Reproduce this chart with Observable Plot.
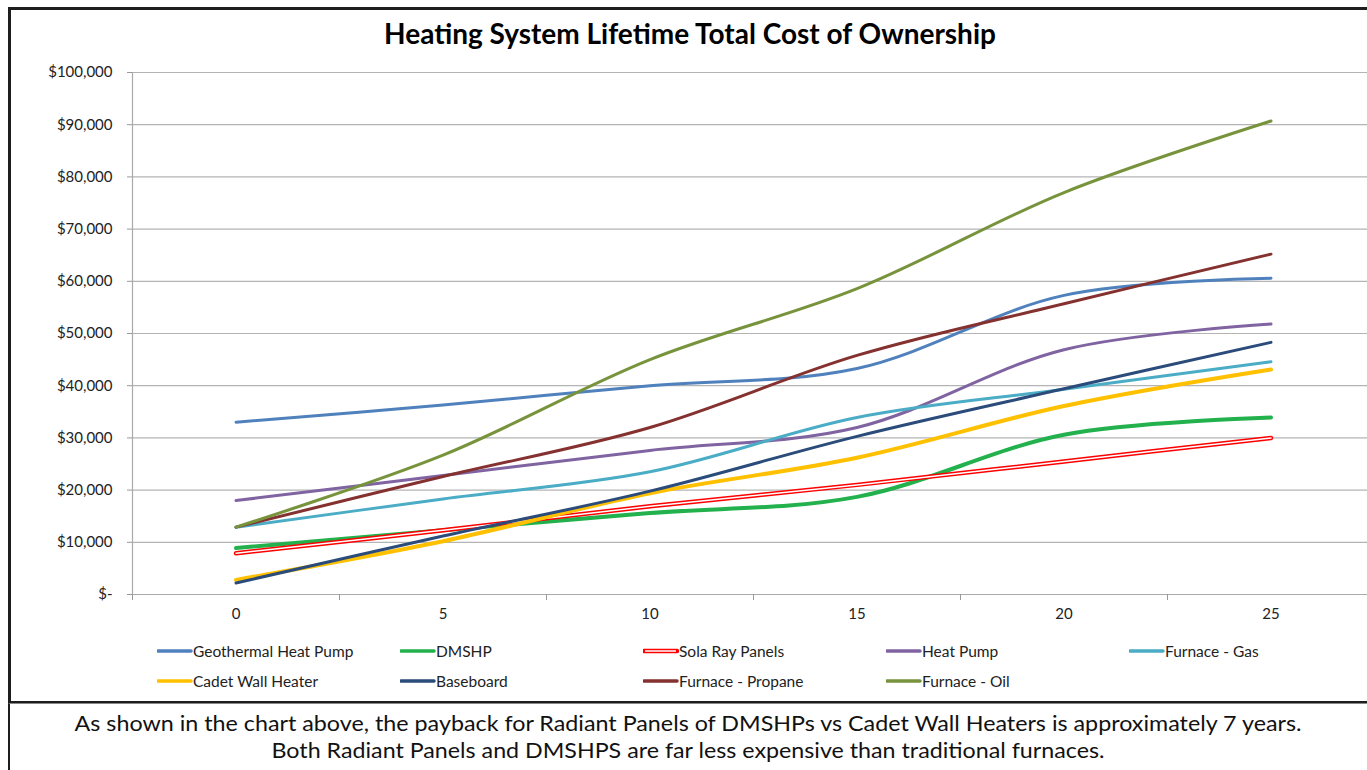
<!DOCTYPE html>
<html>
<head>
<meta charset="utf-8">
<script src="https://cdn.jsdelivr.net/npm/d3@7"></script>
<script src="https://cdn.jsdelivr.net/npm/@observablehq/plot@0.6"></script>
<style>
  html, body { margin: 0; padding: 0; background: #fff; overflow: hidden; }
  #page { position: relative; width: 1367px; height: 770px; overflow: hidden; font-family: Lato, "Open Sans", sans-serif; }
  #chartbox { position: absolute; left: 8px; top: 7px; width: 1420px; height: 697px; border: 3px solid #1e1e1e; box-sizing: border-box; }
  #capbox { position: absolute; left: 8px; top: 703px; width: 1420px; height: 100px; border-left: 2px solid #1e1e1e; border-top: 1px solid #888; box-sizing: border-box; }
  #title { position: absolute; left: 0; width: 1380px; top: 16px; text-align: center; font-weight: 700; font-size: 28px; color: #000; }
  #plot { position: absolute; left: 0; top: 0; width: 1380px; }
  #plot svg { max-width: none !important; }
  .leg { position: absolute; font-size: 15.5px; color: #222; white-space: nowrap; line-height: 18px; }
  .leg svg { position: absolute; left: 0; top: 0; }
  .leg span { position: absolute; left: 36px; top: 0; }
  #caption { position: absolute; left: 0; top: 705px; }
</style>
</head>
<body>
<div id="page">
  <div id="chartbox"></div>
  <div id="capbox"></div>
  <div id="title">Heating System Lifetime Total Cost of Ownership</div>
  <div id="plot"></div>
  <div id="legend"></div>
  <svg id="caption" width="1367" height="65"></svg>
</div>
<script>
// ---- data ----
const years = [0, 5, 10, 15, 20, 25];
const seriesNames = ["Geothermal Heat Pump", "DMSHP", "Sola Ray Panels", "Heat Pump", "Furnace - Gas",
                     "Cadet Wall Heater", "Baseboard", "Furnace - Propane", "Furnace - Oil"];
const geothermal = [33000, 36300, 40000, 43300, 57300, 60600];
const dmshp      = [8900, 12300, 15600, 18700, 30600, 33900];
const solaRay    = [7900, 12300, 16900, 21000, 25500, 30000];
const heatPump   = [18000, 22800, 27600, 32000, 46900, 51800];
const furnaceGas = [12900, 18300, 23500, 33900, 39300, 44600];
const cadet      = [2800, 10200, 19400, 26200, 36100, 43100];
const baseboard  = [2200, 11200, 19800, 30300, 39400, 48300];
const propane    = [12900, 22600, 32000, 45800, 55700, 65200];
const oil        = [12900, 26700, 45000, 58600, 77000, 90700];
const yTicks = [0, 10000, 20000, 30000, 40000, 50000, 60000, 70000, 80000, 90000, 100000];
const captionLines = [
  "As shown in the chart above, the payback for Radiant Panels of DMSHPs vs Cadet Wall Heaters is approximately 7 years.",
  "Both Radiant Panels and DMSHPS are far less expensive than traditional furnaces."
];

// ---- styles ----
const seriesValues = [geothermal, dmshp, solaRay, heatPump, furnaceGas, cadet, baseboard, propane, oil];
const colors = ["#4f81bd", "#22b14c", "#ff0000", "#8064a2", "#4bacc6", "#ffc000", "#2b4c7a", "#843130", "#77933c"];
const widths = [3, 4, 4.5, 3, 3, 4, 3, 3, 3];

const rows = [];
seriesNames.forEach((name, s) => years.forEach((yr, i) => rows.push({series: name, year: yr, cost: seriesValues[s][i]})));

const lineMarks = [];
seriesNames.forEach((name, s) => {
  const data = rows.filter(d => d.series === name);
  lineMarks.push(Plot.line(data, {x: "year", y: "cost", stroke: colors[s], strokeWidth: widths[s], curve: "catmull-rom"}));
  if (name === "Sola Ray Panels") {
    lineMarks.push(Plot.line(data, {x: "year", y: "cost", stroke: "#ffffff", strokeWidth: 1.5, curve: "catmull-rom"}));
  }
});

const boundaries = [-2.5, 2.5, 7.5, 12.5, 17.5, 22.5, 27.5];

const chart = Plot.plot({
  width: 1380, height: 640,
  marginLeft: 132, marginRight: 6, marginTop: 72, marginBottom: 46,
  x: {domain: [-2.5, 27.5]},
  y: {domain: [0, 100000]},
  style: {background: "transparent", fontFamily: "Lato, sans-serif", color: "#222", overflow: "visible"},
  marks: [
    Plot.gridY(yTicks, {stroke: "#b4b4b4", strokeOpacity: 1, strokeWidth: 1.2}),
    Plot.axisY({ticks: yTicks, tickSize: 5, tickPadding: 15, fontSize: 15,
                tickFormat: d => d === 0 ? "$-" : d3.format("$,")(d), stroke: "#999", label: null}),
    Plot.ruleX([-2.5], {y1: 0, y2: 100000, stroke: "#aaa", strokeWidth: 1.2}),
    Plot.ruleY([0], {stroke: "#aaa", strokeWidth: 1.2}),
    Plot.axisX({ticks: boundaries, tickSize: 6, tickFormat: () => "", stroke: "#999", label: null}),
    Plot.axisX({ticks: years, tickSize: 0, tickPadding: 14, fontSize: 15, label: null}),
    ...lineMarks
  ]
});
chart.style.maxWidth = "none";
chart.style.width = "1380px";
chart.style.height = "640px";
document.getElementById("plot").appendChild(chart);

// ---- legend ----
const legend = document.getElementById("legend");
const colX = [157, 400, 643, 886, 1129];
const rowY = [642, 672];
seriesNames.forEach((name, s) => {
  const c = s % 5, r = Math.floor(s / 5);
  const item = document.createElement("div");
  item.className = "leg";
  item.style.left = colX[c] + "px";
  item.style.top = rowY[r] + "px";
  const inner = name === "Sola Ray Panels"
    ? `<line x1="1" x2="34" y1="9" y2="9" stroke="${colors[s]}" stroke-width="4.5" stroke-linecap="round"/><line x1="2" x2="33" y1="9" y2="9" stroke="#fff" stroke-width="1.5"/>`
    : `<line x1="1" x2="34" y1="9" y2="9" stroke="${colors[s]}" stroke-width="3.5" stroke-linecap="round"/>`;
  item.innerHTML = `<svg width="36" height="18">${inner}</svg><span>${name}</span>`;
  legend.appendChild(item);
});

// ---- caption ----
const cap = d3.select("#caption");
const capCenters = [688, 688];
const capWidths = [1227, 833];
const capY = [26, 53];
captionLines.forEach((t, i) => {
  cap.append("text")
    .attr("x", capCenters[i] - capWidths[i] / 2)
    .attr("y", capY[i])
    .attr("textLength", capWidths[i])
    .attr("lengthAdjust", "spacingAndGlyphs")
    .attr("font-family", "Lato, sans-serif")
    .attr("font-size", 21)
    .attr("fill", "#111")
    .text(t);
});
</script>
</body>
</html>
